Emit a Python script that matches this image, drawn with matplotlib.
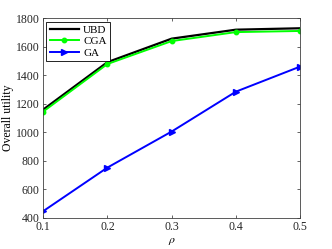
import numpy as np
import matplotlib.pyplot as plt

plt.rcParams['font.family'] = ['Liberation Serif', 'DejaVu Serif']
plt.rcParams['mathtext.fontset'] = 'stix'

rho = [0.1, 0.2, 0.3, 0.4, 0.5]
ubd = [1160, 1493, 1658, 1721, 1731]
cga = [1146, 1480, 1641, 1704, 1712]
ga = [447, 753, 1006, 1286, 1462]

fig = plt.figure(figsize=(3.32, 2.49), dpi=100)
ax = fig.add_axes([0.13, 0.125, 0.774, 0.801])

ax.plot(rho, ubd, color='k', lw=1.6, label='UBD')
ax.plot(rho, cga, color='#00ff00', lw=1.4, marker='o', ms=3.2, label='CGA')
ax.plot(rho, ga, color='b', lw=1.4, marker='>', ms=5, label='GA')

ax.set_xlim(0.1, 0.5)
ax.set_ylim(400, 1800)
ax.set_xticks(rho)
ax.set_yticks(np.arange(400, 1801, 200))
ax.tick_params(direction='in', top=True, right=True, labelsize=8.5,
               length=2.5, width=0.5, colors='#262626', pad=2.5)
for s in ax.spines.values():
    s.set_linewidth(0.6)
    s.set_color('#404040')
ax.set_xlabel(r'$\rho$', fontsize=8.5, labelpad=1)
ax.set_ylabel('Overall utility', fontsize=8.5, labelpad=1)

leg = ax.legend(loc='upper left', fontsize=8, fancybox=False, framealpha=1,
                edgecolor='k', handlelength=2.6, borderaxespad=0.3,
                labelspacing=0.15, borderpad=0.3, handletextpad=0.4)
leg.get_frame().set_linewidth(0.6)

fig.savefig('out.png', dpi=100)
